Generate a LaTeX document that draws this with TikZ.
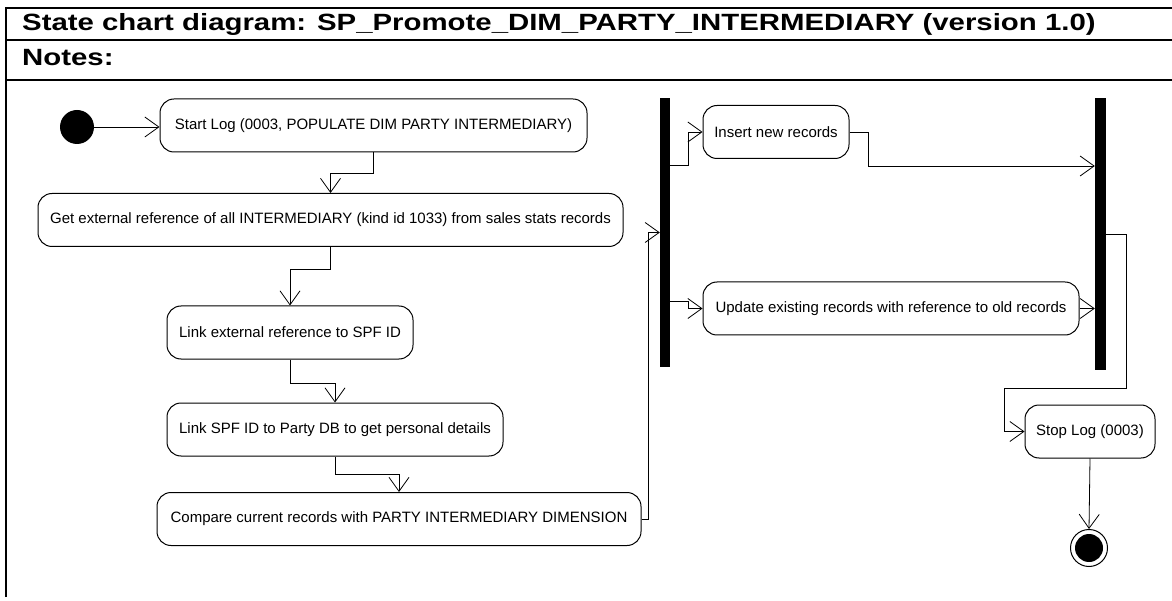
\documentclass[tikz,border=0pt]{standalone}
\usepackage{fontspec}
\setmainfont{Liberation Sans}
\newfontfamily\titlefont{Liberation Sans}[FakeStretch=1.25]
\usetikzlibrary{arrows.meta}
\tikzset{
  estado/.style={draw, line width=1pt, rounded corners=14pt, minimum height=53pt, inner sep=0pt, font=\fontsize{15}{17}\selectfont},
  barra/.style={fill=black, inner sep=0pt},
  fluxo/.style={-{Straight Barb[length=14pt,width=20pt]}, line width=0.8pt},
  titulo/.style={anchor=west, inner sep=0pt, font=\titlefont\bfseries\fontsize{23.5}{26}\selectfont},
}
\begin{document}
\begin{tikzpicture}[x=1pt,y=-1pt]  %Inicio Grafico, y para baixo
	\useasboundingbox (0,0) rectangle (1172,601);
		%Moldura
	\draw[line width=1.2pt] (6,597) -- (6,8) -- (1172,8); %Borda esquerda e topo
	\draw[line width=1.2pt] (6,40) -- (1172,40); %Linha do titulo
	\draw[line width=1.2pt] (6,80) -- (1172,80); %Linha das notas
	\node[titulo] (tit) at (22,24) {State chart diagram: SP\_Promote\_DIM\_PARTY\_INTERMEDIARY (version 1.0)};
	\node[titulo] (notas) at (22,58) {Notes:};
		%Estados
	\node[circle, fill=black, minimum size=34pt, inner sep=0pt] (ini) at (77,127) {};
	\node[estado, minimum width=427pt] (log) at (373.5,125.5) {Start Log (0003, POPULATE DIM PARTY INTERMEDIARY)};
	\node[estado, minimum width=585pt] (extref) at (330.5,220) {Get external reference of all INTERMEDIARY (kind id 1033) from sales stats records};
	\node[estado, minimum width=246pt] (linkext) at (290,332.5) {Link external reference to SPF ID};
	\node[estado, minimum width=336pt] (linkspf) at (335,429.5) {Link SPF ID to Party DB to get personal details};
	\node[estado, minimum width=484pt] (comp) at (399,519) {Compare current records with PARTY INTERMEDIARY DIMENSION};
	\node[barra, minimum width=10pt, minimum height=269pt] (fork) at (665,232.5) {};
	\node[estado, minimum width=146pt] (ins) at (776,132) {Insert new records};
	\node[estado, minimum width=376pt] (upd) at (891,308.5) {Update existing records with reference to old records};
	\node[barra, minimum width=11pt, minimum height=272pt] (join) at (1100.5,234) {};
	\node[estado, minimum width=130pt] (stop) at (1090,431.5) {Stop Log (0003)};
	\node[circle, draw, line width=1pt, minimum size=37pt, inner sep=0pt,
	      path picture={\fill (path picture bounding box.center) circle (14pt);}] (fim) at (1089,548) {};
		%Transicoes
	\draw[fluxo] (ini.east) -- (ini.east -| log.west);
	\draw[fluxo] (log.south) -- ++(0,21) -| (extref.north);
	\draw[fluxo] (extref.south) -- ++(0,22) -| (linkext.north);
	\draw[fluxo] (linkext.south) -- ++(0,24) -| (linkspf.north);
	\draw[fluxo] (linkspf.south) -- ++(0,18) -| (comp.north);
	\draw[fluxo] (comp.east) -- ++(7,0) |- (fork.west);
	\draw[fluxo] ([yshift=67pt]fork.east) -- ++(18,0) |- (ins.west);
	\draw[fluxo] ([yshift=-69pt]fork.east) -- ++(18,0) |- (upd.west);
	\draw[fluxo] (ins.east) -- ++(19,0) |- ([yshift=68pt]join.west);
	\draw[fluxo] (upd.east) -- (upd.east -| join.west);
	\draw[fluxo] (join.east) -- ++(20,0) -- ++(0,154) -| ([xshift=-20pt]stop.west) -- (stop.west); %Saida da barra
	\draw[fluxo] (stop.south) -- (fim.north);
\end{tikzpicture}
\end{document}
